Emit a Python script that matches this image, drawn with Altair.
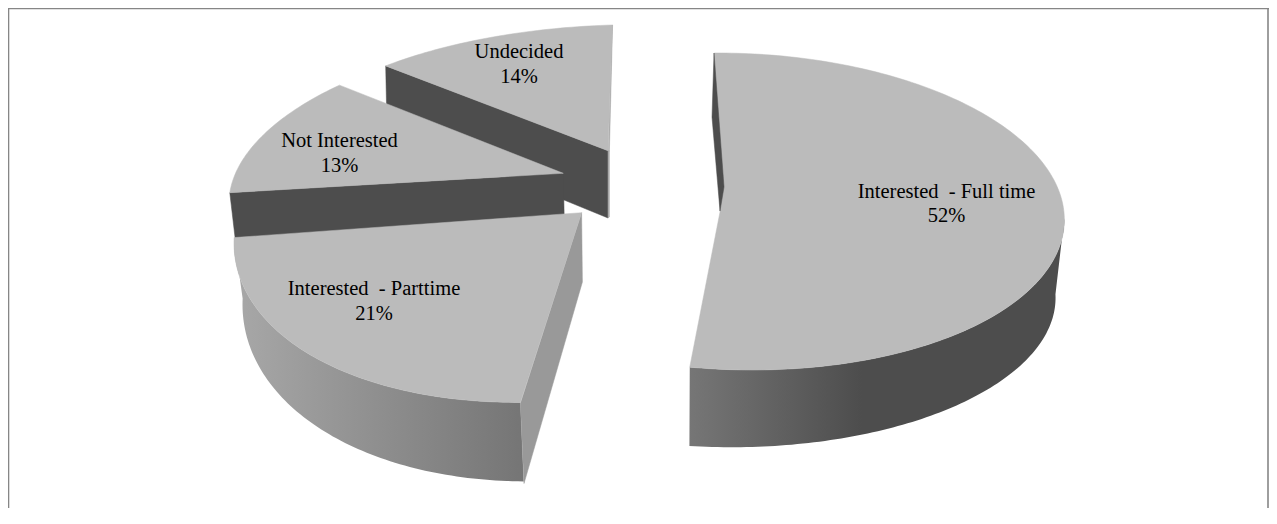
import math
import altair as alt
import pandas as pd

# ---- chart values
categories = ["Interested\u00a0 - Full time", "Interested\u00a0 - Parttime", "Not Interested", "Undecided"]
shares = [52, 21, 13, 14]

# ---- geometry of the drawing, in picture pixels
W, H = 1261, 500
TOP = "#BBBBBB"
DARK = "#4D4D4D"
SIDE = "#999999"


def rim(g, t):
    r = math.radians(t)
    return (g["cx"] + g["a"] * math.sin(r) + g["b"] * math.cos(r),
            g["cy"] - g["c"] * math.cos(r) + g["d"] * math.sin(r))


geo = {
    categories[0]: dict(
        apex=(720, 212), t0=-1, stretch=1.023, wall_from=92,
        top=dict(cx=735, a=329, b=-15, cy=211.5, c=158.5, d=1),
        low=dict(cx=730, a=325, b=-19, cy=297, c=150, d=-8),
        stops=[("#767676", 0), (DARK, 0.46), (DARK, 1)], label=(946.5, 191.5)),
    categories[1]: dict(
        apex=(581.6, 212.7), t0=188.5, stretch=1.10, wall_from=188.5,
        top=dict(cx=570, a=336, b=0, cy=213, c=187, d=-30),
        low=dict(cx=572.5, a=330, b=0, cy=276.5, c=203, d=-28),
        stops=[("#A8A8A8", 0), ("#757575", 1)], label=(374, 289)),
    categories[2]: dict(
        apex=(563.3, 173.3), t0=274, stretch=0.94,
        top=dict(cx=563, a=334, b=0, cy=183.2, c=150, d=-20), label=(339.5, 141)),
    categories[3]: dict(
        apex=(608, 150.7), t0=316.7, stretch=0.86,
        top=dict(cx=612, a=330, b=0, cy=150, c=125, d=-10), label=(519, 52)),
}

x_scale = alt.Scale(domain=[8, 8 + W], nice=False, zero=False)
y_scale = alt.Scale(domain=[8 + H, 8], nice=False, zero=False)


def span_of(cat):
    return shares[categories.index(cat)] * 3.6 * geo[cat]["stretch"]


def top_face(cat):
    g = geo[cat]
    span = span_of(cat)
    n = max(12, int(span))
    return [g["apex"]] + [rim(g["top"], g["t0"] + span * k / n) for k in range(n + 1)]


def wall_outline(cat):
    g = geo[cat]
    t1 = g["t0"] + span_of(cat)
    ta = g["wall_from"]
    n = max(12, int(t1 - ta))
    ts = [ta + (t1 - ta) * k / n for k in range(n + 1)]
    return [rim(g["top"], t) for t in ts] + [rim(g["low"], t) for t in reversed(ts)]


def table(polys):
    rows = []
    for pid, (points, color) in enumerate(polys):
        for i, (x, y) in enumerate(points):
            rows.append(dict(x=x, y=y, pid=pid, i=i, color=color))
    return pd.DataFrame(rows)


def faces(polys):
    return alt.Chart(table(polys)).mark_line(interpolate="linear-closed", strokeWidth=0.5).encode(
        x=alt.X("x:Q", scale=x_scale, axis=None),
        y=alt.Y("y:Q", scale=y_scale, axis=None),
        order="i:Q",
        detail="pid:N",
        stroke=alt.Stroke("color:N", scale=None, legend=None),
        fill=alt.Fill("color:N", scale=None, legend=None),
    )


def wall(cat):
    grad = alt.LinearGradient(
        gradient="linear", x1=0, x2=1, y1=0, y2=0,
        stops=[alt.GradientStop(color=c, offset=o) for c, o in geo[cat]["stops"]],
    )
    return alt.Chart(table([(wall_outline(cat), "wall")])).mark_line(
        interpolate="linear-closed", fill=grad, strokeWidth=0
    ).encode(
        x=alt.X("x:Q", scale=x_scale, axis=None),
        y=alt.Y("y:Q", scale=y_scale, axis=None),
        order="i:Q",
    )


undecided_top = top_face(categories[3])
undecided_corner = undecided_top[1]

back = faces([
    ([(608, 150.7), undecided_corner, (387, 127.6), (608, 218)], DARK),
    ([(608, 151), (609.4, 151), (609.4, 217), (608, 218)], "#A8A8A8"),
    ([(612, 25), (612.6, 25), (609.4, 151), (608.4, 151)], "#A8A8A8"),
    (undecided_top, TOP),
    ([(563.3, 173.3), (229.8, 192.7), (236.5, 250), (564.5, 232)], DARK),
    (top_face(categories[2]), TOP),
])
part_side = faces([
    ([(581.6, 212.7), (520.4, 403.7), (524, 483.5), (582.4, 282)], SIDE),
    (top_face(categories[1]), TOP),
])
full_top = faces([
    (top_face(categories[0]), TOP),
    ([(714, 53), (712, 117), (720, 211), (724, 187)], DARK),
])

label_rows = []
for cat, s in zip(categories, shares):
    lx, ly = geo[cat]["label"]
    label_rows.append(dict(x=lx, y=ly, text=cat))
    label_rows.append(dict(x=lx, y=ly + 24.5, text=f"{s}%"))

labels = alt.Chart(pd.DataFrame(label_rows)).mark_text(
    font="Liberation Serif", fontSize=20.5, color="#000000", align="center", baseline="middle"
).encode(
    x=alt.X("x:Q", scale=x_scale, axis=None),
    y=alt.Y("y:Q", scale=y_scale, axis=None),
    text="text:N",
)

frame = alt.Chart(pd.DataFrame({"a": [0]})).mark_rule(color="#868686", strokeWidth=1.6)
top_rule = frame.encode(x=alt.value(0), x2=alt.value(W), y=alt.value(0.5))
left_rule = frame.encode(x=alt.value(0.5), y=alt.value(0), y2=alt.value(H))
right_rule = frame.encode(x=alt.value(W - 1), y=alt.value(0), y2=alt.value(H))

chart = alt.layer(
    back, wall(categories[1]), part_side, wall(categories[0]), full_top, labels,
    top_rule, left_rule, right_rule,
).properties(
    width=W, height=H, padding=0, background="#FFFFFF",
    autosize=alt.AutoSizeParams(type="none"),
).configure_view(stroke=None)

chart.save("out.html", embed_options={"renderer": "svg", "actions": False})
